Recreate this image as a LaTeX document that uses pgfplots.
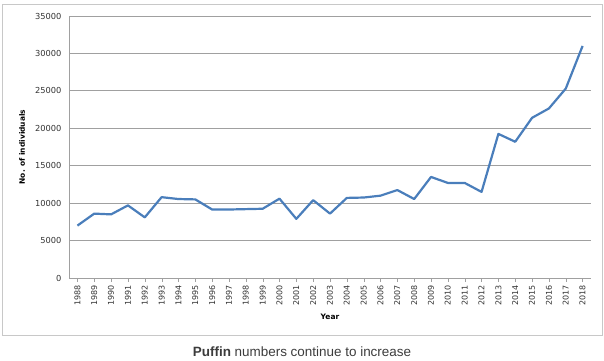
\documentclass[border=0pt]{standalone}
\usepackage{pgfplots}
\pgfplotsset{compat=1.18}
\usepackage{fontspec}
\setmainfont{DejaVu Sans}
\newfontfamily\capfont{Liberation Sans}
\definecolor{lineblue}{RGB}{74,126,187}
\definecolor{gridgray}{RGB}{160,160,160}
\definecolor{framegray}{RGB}{200,200,200}
\definecolor{capgray}{RGB}{60,60,60}
\begin{document}
\begin{tikzpicture}
\path (0,0) rectangle (604bp,-361bp);
\draw[framegray, line width=1bp] (2bp,-4bp) rectangle (602bp,-335bp);
\node[font=\capfont\fontsize{13.5}{15}\selectfont, text=capgray] at (302bp,-352bp) {\textbf{Puffin} numbers continue to increase};
\begin{axis}[
  at={(69bp,-278bp)}, anchor=south west,
  scale only axis, width=522bp, height=262bp,
  xmin=1987.5, xmax=2018.5, ymin=0, ymax=35000,
  xtick={1988,...,2018},
  ytick={0,5000,...,35000},
  scaled y ticks=false,
  /pgf/number format/assume math mode=true,
  yticklabel style={/pgf/number format/fixed, /pgf/number format/1000 sep={}, font=\fontsize{8.3}{10}\selectfont, text=black!80},
  xticklabel style={/pgf/number format/1000 sep={}, rotate=90, anchor=east, font=\fontsize{8}{10}\selectfont, text=black!80},
  axis x line*=bottom, axis y line*=left,
  axis line style={gridgray},
  x axis line style={-}, y axis line style={-},
  ymajorgrids, grid style={gridgray, line width=0.8bp},
  xtick style={gridgray}, ytick style={draw=none},
  tick align=outside, major tick length=4bp,
  xlabel={\textbf{Year}}, ylabel={\textbf{No. of individuals}},
  label style={font=\fontsize{7.5}{9}\selectfont},
  xlabel style={at={(axis description cs:0.5,0)}, anchor=center, yshift=-39bp},
  ylabel style={at={(axis description cs:0,0.5)}, anchor=center, yshift=47bp},
]
\addplot[lineblue, line width=2.2bp, line join=round] coordinates {
(1988,7000) (1989,8600) (1990,8500) (1991,9700) (1992,8100) (1993,10800)
(1994,10550) (1995,10500) (1996,9150) (1997,9150) (1998,9200) (1999,9250)
(2000,10600) (2001,7900) (2002,10400) (2003,8600) (2004,10700) (2005,10750)
(2006,11000) (2007,11750) (2008,10550) (2009,13500) (2010,12700) (2011,12700)
(2012,11500) (2013,19250) (2014,18200) (2015,21400) (2016,22650) (2017,25300)
(2018,31000)};
\end{axis}
\end{tikzpicture}
\end{document}
